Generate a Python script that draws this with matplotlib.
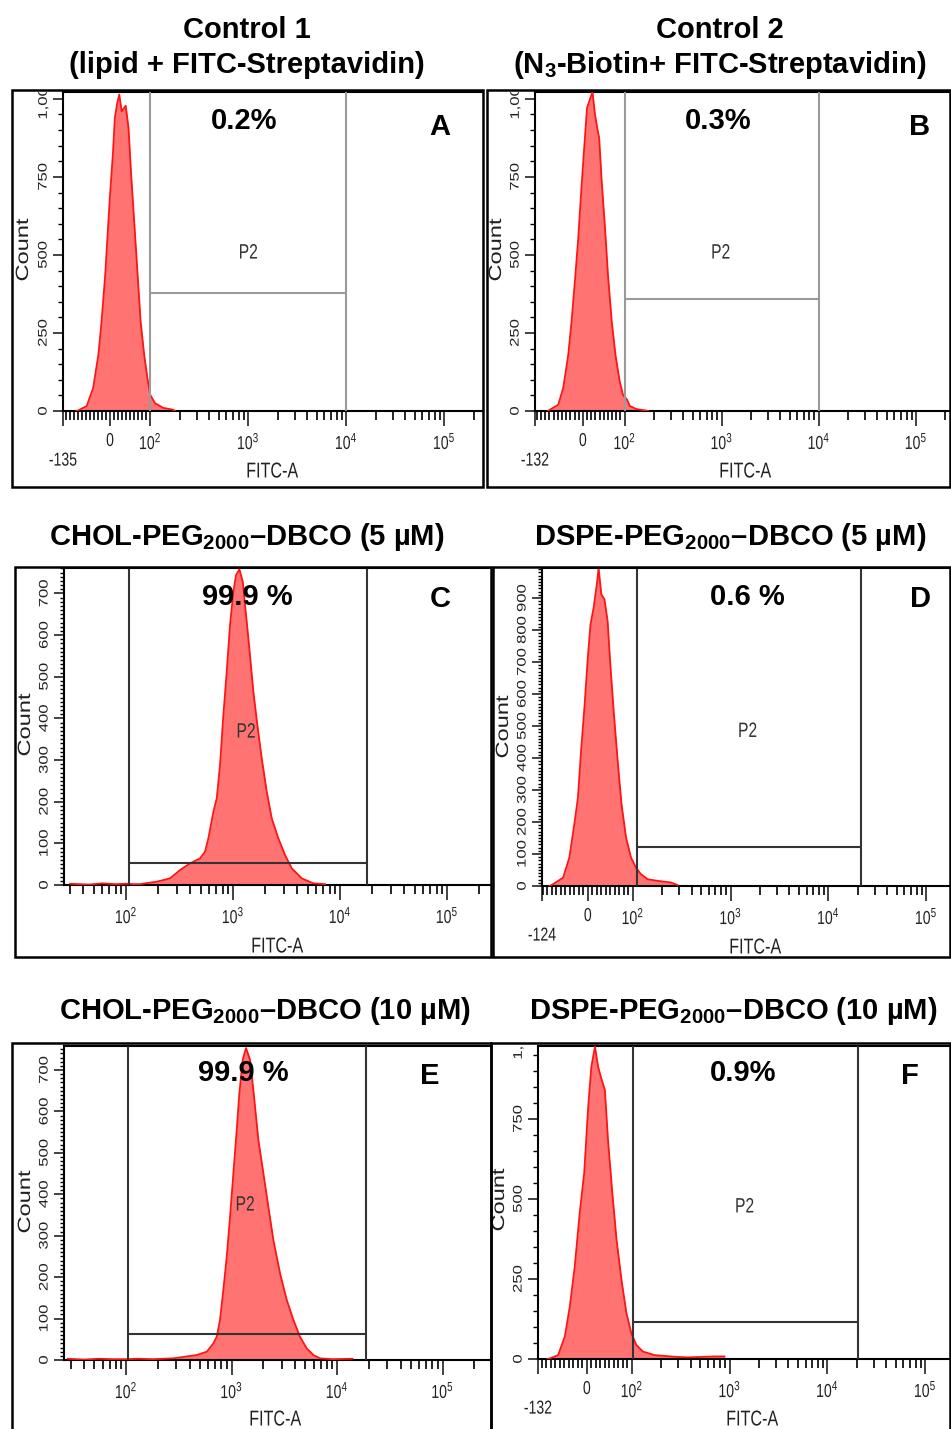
import numpy as np
import matplotlib
matplotlib.use('Agg')
import matplotlib.pyplot as plt
from matplotlib import patheffects
from matplotlib.patches import Rectangle
from matplotlib.transforms import Affine2D, Bbox, TransformedBbox, offset_copy

W, H = 951, 1429

plt.rcParams['font.family'] = ['Liberation Sans', 'DejaVu Sans']
plt.rcParams['mathtext.fontset'] = 'custom'
plt.rcParams['mathtext.rm'] = 'Liberation Sans'
plt.rcParams['mathtext.it'] = 'Liberation Sans'
plt.rcParams['mathtext.bf'] = 'Liberation Sans:bold'


# Screenshot-Texte sind horizontal gestaucht -> Schrift in x zusammendruecken
class Squeeze(patheffects.AbstractPathEffect):
    def __init__(self, sx=0.75):
        super().__init__()
        self.sx = sx

    def draw_path(self, renderer, gc, tpath, affine, rgbFace=None):
        ext = tpath.get_extents(affine)
        cx = 0.5 * (ext.x0 + ext.x1)
        tr = affine + Affine2D().translate(-cx, 0).scale(self.sx, 1).translate(cx, 0)
        renderer.draw_path(gc, tpath, tr, rgbFace)


SQ = [Squeeze(0.75)]

# --- Daten ---
a_fitc = [-84, -79, -58, -42, -29, -21, -12, -6, 0, 7, 12, 18, 23, 29, 39, 46, 52, 60, 68, 76, 85, 93, 100, 112, 136, 172, 179]
a_count = [0, 2, 16, 74, 180, 288, 437, 565, 693, 821, 939, 987, 1014, 960, 978, 907, 769, 609, 449, 288, 180, 106, 52, 25, 10, 4, 0]

b_fitc = [-84, -79, -59, -47, -35, -27, -19, -11, -5, 2, 10, 18, 23, 29, 35, 39, 45, 53, 60, 69, 78, 88, 96, 106, 113, 133, 162, 175]
b_count = [0, 4, 20, 74, 180, 288, 417, 554, 683, 821, 971, 1003, 1022, 950, 902, 875, 737, 587, 437, 288, 180, 96, 52, 36, 16, 6, 2, 0]

c_fitc = [30, 45, 60, 80, 100, 120, 135, 194, 258, 320, 397, 492, 547, 588, 655, 704, 756, 812, 873, 937, 1007, 1067, 1146,
          1233, 1323, 1420, 1548, 1687, 1854, 2065, 2300, 2651, 3061, 3538, 4389, 5627, 7244]
c_count = [3, 1, 4, 2, 3, 2, 2, 8, 16, 36, 52, 64, 80, 112, 176, 208, 288, 408, 512, 624, 704, 744, 758,
           728, 648, 568, 464, 384, 304, 224, 160, 112, 72, 40, 16, 4, 2]

d_fitc = [-85, -78, -55, -41, -30, -22, -15, -7, 0, 6, 13, 20, 24, 30, 37, 44, 50, 58, 67, 75, 85, 96, 108, 121, 142, 180, 245, 287]
d_count = [0, 5, 26, 89, 193, 276, 422, 568, 714, 818, 870, 943, 993, 912, 896, 828, 693, 537, 380, 255, 151, 89, 57, 37, 21, 16, 11, 3]

e_fitc = [28, 40, 55, 75, 100, 130, 180, 281, 468, 582, 672, 724, 778, 836, 901, 968, 1041, 1120, 1186, 1277, 1371, 1496,
          1609, 1796, 2002, 2232, 2489, 2882, 3335, 3854, 4455, 5160, 5962, 6899, 9000, 14000]
e_count = [3, 1, 3, 2, 2, 3, 2, 4, 12, 20, 40, 56, 97, 169, 250, 346, 451, 556, 644, 725, 753, 725,
           652, 531, 451, 370, 290, 209, 145, 97, 56, 28, 12, 4, 2, 3]

f_fitc = [-88, -82, -64, -49, -38, -27, -16, -6, 3, 10, 18, 25, 33, 40, 47, 56, 66, 77, 88, 99, 111, 130, 172, 274, 374, 701, 886]
f_count = [0, 2, 12, 70, 163, 288, 455, 580, 788, 913, 976, 913, 872, 841, 684, 528, 372, 247, 143, 80, 44, 23, 12, 7, 5, 8, 8]

gate_lo = [100, 100, 107, 110, 105, 103]
gate_hi = [10000, 10000, 17900, 21500, 18800, 20400]
gate_y = [378, 359, 52, 121, 63, 115]
percents = ['0.2%', '0.3%', '99.9 %', '0.6 %', '99.9 %', '0.9%']
letters = ['A', 'B', 'C', 'D', 'E', 'F']
neg_labels = ['-135', '-132', None, '-124', None, '-132']

titles = [
    ('Control 1', (247, 38)), ('(lipid + FITC-Streptavidin)', (247, 73)),
    ('Control 2', (720, 38)), (r'(N$_{\mathbf{3}}$-Biotin+ FITC-Streptavidin)', (720, 73)),
    (r'CHOL-PEG$_{\mathbf{2000}}$–DBCO (5 µM)', (247, 545)),
    (r'DSPE-PEG$_{\mathbf{2000}}$–DBCO (5 µM)', (730, 545)),
    (r'CHOL-PEG$_{\mathbf{2000}}$–DBCO (10 µM)', (265, 1019)),
    (r'DSPE-PEG$_{\mathbf{2000}}$–DBCO (10 µM)', (733, 1019)),
]

fitcs = [a_fitc, b_fitc, c_fitc, d_fitc, e_fitc, f_fitc]
counts = [a_count, b_count, c_count, d_count, e_count, f_count]

# --- Layout in Pixeln (links, oben, rechts, unten) ---
panels = [
    dict(box=(12, 90, 483, 487), ax=(63, 92, 483, 411), lin=0.41, xlim=(-117.5, 249000), ylim=(0, 1022), ystep=250, yminor=50,
         gcol='#9a9a9a', pct=(244, 121), let=(440, 127), p2=(1000, 506), xlab=(272, 472), cnt=(24, 250)),
    dict(box=(487, 90, 950, 487), ax=(535, 92, 950, 411), lin=0.43, xlim=(-115.6, 224000), ylim=(0, 1022), ystep=250, yminor=50,
         gcol='#9a9a9a', pct=(718, 121), let=(920, 127), p2=(973, 506), xlab=(745, 472), cnt=(497, 250)),
    dict(box=(15, 567, 491, 957), ax=(64, 568, 491, 885), lin=None, xlim=(26.3, 257600), ylim=(0, 761), ystep=100, yminor=10,
         gcol='#333333', pct=(247, 597), let=(440, 599), p2=(1320, 367), xlab=(277, 947), cnt=(26, 725)),
    dict(box=(493, 567, 950, 957), ax=(542, 568, 950, 886), lin=0.46, xlim=(-102, 175400), ylim=(0, 994), ystep=100, yminor=10,
         gcol='#333333', pct=(747, 597), let=(920, 599), p2=(1490, 483), xlab=(755, 948), cnt=(504, 727)),
    dict(box=(12, 1043, 491, 1440), ax=(64, 1046, 491, 1360), lin=None, xlim=(25.8, 288000), ylim=(0, 758), ystep=100, yminor=10,
         gcol='#333333', pct=(243, 1073), let=(430, 1076), p2=(1343, 374), xlab=(275, 1420), cnt=(26, 1202)),
    dict(box=(491, 1043, 950, 1440), ax=(538, 1046, 950, 1359), lin=0.46, xlim=(-109.6, 179500), ylim=(0, 978), ystep=250, yminor=50,
         gcol='#333333', pct=(743, 1073), let=(910, 1076), p2=(1420, 475), xlab=(752, 1420), cnt=(500, 1200)),
]

PT = 0.72  # Pixel -> Punkt bei dpi 100

fig = plt.figure(figsize=(W / 100, H / 100), dpi=100)
fig.patch.set_facecolor('white')


def fx(x):
    return x / W


def fy(y):
    return 1 - y / H


for i, p in enumerate(panels):
    l, t, r, b = p['ax']
    ax = fig.add_axes([fx(l), fy(b), (r - l) / W, (b - t) / H])

    if p['lin'] is None:
        ax.set_xscale('log')
        major = [100, 1e3, 1e4, 1e5]
        majlab = ['$10^2$', '$10^3$', '$10^4$', '$10^5$']
        minor = [m * d for d in [10, 100, 1000, 10000, 100000] for m in range(2, 10)]
    else:
        ax.set_xscale('symlog', linthresh=100, linscale=p['lin'] * 0.9, base=10)
        major = [p['xlim'][0], 0, 100, 1e3, 1e4, 1e5]
        majlab = ['\n' + neg_labels[i], '0', '$10^2$', '$10^3$', '$10^4$', '$10^5$']
        minor = list(np.arange(-110, 100, 10)) + [m * d for d in [100, 1000, 10000, 100000] for m in range(2, 10)]
    ax.set_xlim(*p['xlim'])
    ax.set_ylim(*p['ylim'])

    # Histogramm
    ax.fill_between(fitcs[i], counts[i], 0, color='#ff7373', lw=0, zorder=2)
    ax.plot(fitcs[i], counts[i], color='#ff1414', lw=1.3, zorder=3)

    # Gate P2
    ax.vlines([gate_lo[i], gate_hi[i]], 0, p['ylim'][1], colors=p['gcol'], lw=1.5, zorder=4)
    ax.hlines(gate_y[i], gate_lo[i], gate_hi[i], colors=p['gcol'], lw=1.5, zorder=4)
    ax.text(p['p2'][0], p['p2'][1], 'P2', ha='center', va='center', fontsize=15, color='#333333', zorder=5,
            path_effects=SQ)

    # Achsen
    ax.set_xticks(major)
    ax.set_xticklabels(majlab)
    ax.set_xticks([m for m in minor if p['xlim'][0] < m < p['xlim'][1]], minor=True)
    ax.tick_params(axis='x', which='major', length=15 * PT, width=1.2, pad=7 * PT, labelsize=13.5, colors='#222222')
    ax.tick_params(axis='x', which='minor', length=9 * PT, width=1.2)
    for lbl in ax.get_xticklabels():
        lbl.set_path_effects(SQ)

    yt = list(range(0, int(p['ylim'][1]) + 1, p['ystep']))
    ax.set_yticks(yt)
    if p['ystep'] == 250:
        ax.set_yticklabels(['0', '250', '500', '750', ''][:len(yt)])
        # 1,000 oben abgeschnitten wie im Original
        tr = offset_copy(ax.get_yaxis_transform(), fig=fig, x=-12, y=0, units='dots')
        txt = ax.text(0, 1000, '1,000', transform=tr, rotation=90, ha='right', va='center', fontsize=12,
                      color='#222222', path_effects=SQ)
        txt.set_clip_box(TransformedBbox(Bbox([[-0.3, -0.2], [1.0, 1.0]]), ax.transAxes))
        txt.set_clip_on(True)
    else:
        ax.set_yticklabels([str(v) for v in yt])
    ax.set_yticks(list(range(0, int(p['ylim'][1]) + 1, p['yminor'])), minor=True)
    ax.tick_params(axis='y', which='major', length=10 * PT, width=1.2, pad=2 * PT, labelsize=12, colors='#222222')
    ax.tick_params(axis='y', which='minor', length=(5 if p['ystep'] == 250 else 4) * PT, width=1.0)
    for lbl in ax.get_yticklabels():
        lbl.set_rotation(90)
        lbl.set_va('center')
        lbl.set_path_effects(SQ)

    for s in ['left', 'bottom', 'top']:
        ax.spines[s].set_linewidth(1.5)
        ax.spines[s].set_color('black')
    ax.spines['right'].set_visible(False)

    # Beschriftungen
    fig.text(fx(p['xlab'][0]), fy(p['xlab'][1]), 'FITC-A', ha='center', va='center', fontsize=15.5,
             color='#222222', path_effects=SQ)
    fig.text(fx(p['cnt'][0]), fy(p['cnt'][1]), 'Count', rotation=90, ha='center', va='center', fontsize=17,
             color='#222222', path_effects=SQ)
    fig.text(fx(p['pct'][0]), fy(p['pct'][1]), percents[i], ha='center', va='center', fontsize=21, fontweight='bold', zorder=10)
    fig.text(fx(p['let'][0]), fy(p['let'][1]), letters[i], ha='center', va='center', fontsize=21, fontweight='bold', zorder=10)

    # Rahmen um jedes Feld
    bl, bt, br, bb = p['box']
    fig.add_artist(Rectangle((fx(bl), fy(bb)), (br - bl) / W, (bb - bt) / H, transform=fig.transFigure,
                             fill=False, lw=1.8, ec='black', zorder=20))

for txt, (x, y) in titles:
    fig.text(fx(x), fy(y), txt, ha='center', va='baseline', fontsize=21, fontweight='bold')

fig.savefig('out.png', dpi=100, facecolor='white')
